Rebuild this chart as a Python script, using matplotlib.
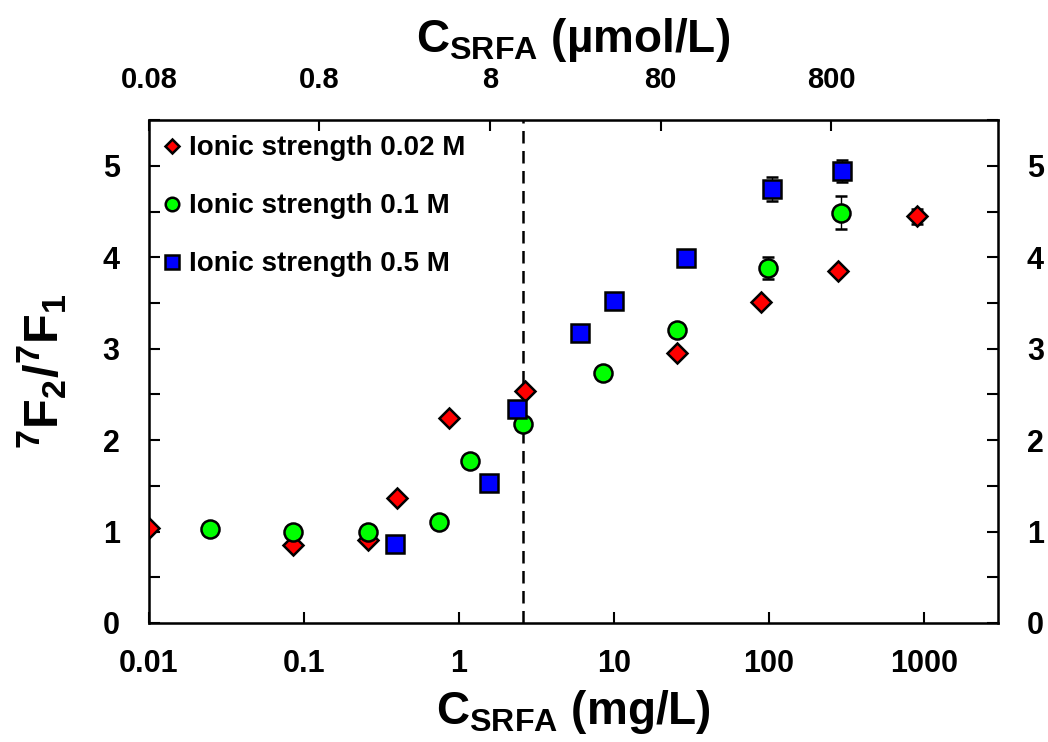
import matplotlib
matplotlib.use("Agg")
import matplotlib.pyplot as plt
from matplotlib.ticker import FixedLocator, NullLocator, MultipleLocator

plt.rcParams['font.family'] = ['Liberation Sans', 'DejaVu Sans']
plt.rcParams['font.weight'] = 'bold'
plt.rcParams['axes.labelweight'] = 'bold'
plt.rcParams['mathtext.fontset'] = 'custom'
plt.rcParams['mathtext.rm'] = 'Liberation Sans:bold'
plt.rcParams['mathtext.bf'] = 'Liberation Sans:bold'
plt.rcParams['mathtext.it'] = 'Liberation Sans:bold'

# ionic strength 0.02 M
x_002 = [0.01, 0.085, 0.26, 0.40, 0.87, 2.67, 25.5, 88.7, 279, 901]
y_002 = [1.04, 0.85, 0.91, 1.37, 2.24, 2.54, 2.95, 3.51, 3.85, 4.45]
e_002 = [0.02, 0.02, 0.02, 0.02, 0.02, 0.02, 0.02, 0.02, 0.03, 0.08]

# ionic strength 0.1 M
x_01 = [0.0248, 0.085, 0.26, 0.75, 1.19, 2.59, 8.5, 25.5, 98.6, 292]
y_01 = [1.03, 0.99, 0.99, 1.11, 1.77, 2.18, 2.74, 3.21, 3.88, 4.49]
e_01 = [0.02, 0.02, 0.02, 0.02, 0.02, 0.02, 0.03, 0.03, 0.12, 0.18]

# ionic strength 0.5 M
x_05 = [0.386, 1.56, 2.37, 6.04, 10.1, 29.2, 104.5, 296]
y_05 = [0.86, 1.53, 2.34, 3.17, 3.52, 3.99, 4.75, 4.94]
e_05 = [0.02, 0.02, 0.03, 0.03, 0.03, 0.03, 0.13, 0.12]

x_cut = 2.6
bottom_ticks = [0.01, 0.1, 1, 10, 100, 1000]
bottom_labels = ['0.01', '0.1', '1', '10', '100', '1000']
top_ticks = [0.08, 0.8, 8, 80, 800]
top_labels = ['0.08', '0.8', '8', '80', '800']

fig = plt.figure(figsize=(10.48, 7.42), dpi=100)
ax = fig.add_axes([0.142, 0.1604, 0.810, 0.6776])

ax.axvline(x_cut, color='black', ls=(0, (5, 3)), lw=1.8, zorder=1)

err_kw = dict(ecolor='black', elinewidth=1, capsize=4, capthick=1, mec='black', mew=1.8, zorder=3)
c1 = ax.errorbar(x_002, y_002, yerr=e_002, fmt='D', ms=10, mfc='#ff0000', **err_kw)
c2 = ax.errorbar(x_01, y_01, yerr=e_01, fmt='o', ms=13, mfc='#00ff00', **err_kw)
c3 = ax.errorbar(x_05, y_05, yerr=e_05, fmt='s', ms=12.5, mfc='#0000ff', **err_kw)

ax.set_xscale('log')
ax.set_xlim(0.01, 3000)
ax.set_ylim(0, 5.5)
ax.xaxis.set_major_locator(FixedLocator(bottom_ticks))
ax.xaxis.set_minor_locator(NullLocator())
ax.set_xticklabels(bottom_labels)
ax.yaxis.set_major_locator(MultipleLocator(1))
ax.yaxis.set_minor_locator(MultipleLocator(0.5))
ax.tick_params(axis='x', which='major', direction='in', length=8, width=1.5, labelsize=22, pad=19)
ax.tick_params(axis='y', which='both', direction='in', length=8, width=1.5, labelsize=22,
               left=True, right=True, labelleft=True, labelright=True, pad=21)
for s in ax.spines.values():
    s.set_linewidth(1.8)

ax.set_xlabel(r'C$_{SRFA}$ (mg/L)', fontsize=33, labelpad=6)
ax.set_ylabel(r'$^7$F$_2$/$^7$F$_1$', fontsize=35, labelpad=24)

ax2 = ax.twiny()
ax2.set_xscale('log')
ax2.set_xlim(0.08, 7550)
ax2.xaxis.set_major_locator(FixedLocator(top_ticks))
ax2.xaxis.set_minor_locator(NullLocator())
ax2.set_xticklabels(top_labels)
ax2.tick_params(axis='x', which='major', direction='in', length=8, width=1.5, labelsize=21, pad=19)
ax2.set_xlabel('C$_{SRFA}$ (µmol/L)', fontsize=33, labelpad=10)

ax.legend([c1[0], c2[0], c3[0]],
          ['Ionic strength 0.02 M', 'Ionic strength 0.1 M', 'Ionic strength 0.5 M'],
          loc='upper left', frameon=False, fontsize=20, handlelength=0.6, handletextpad=0.3,
          labelspacing=1.15, borderaxespad=0.15, markerscale=0.75)

fig.savefig('out.png', dpi=100)
